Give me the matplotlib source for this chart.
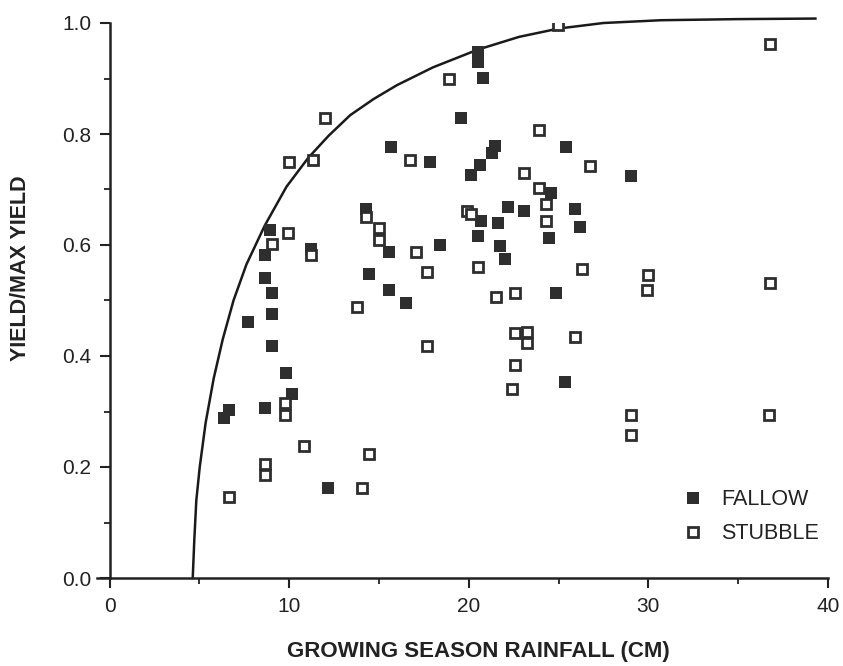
import numpy as np
import matplotlib.pyplot as plt
from matplotlib.ticker import MultipleLocator

plt.rcParams['font.family'] = ['Liberation Sans', 'DejaVu Sans']

# ==============================
# Data
# ==============================
fallow_x = [6.38, 6.65, 7.71, 8.64, 9.05, 9.07, 9.07, 8.64, 8.64, 8.95,
            9.85, 10.18, 11.2, 12.16, 14.28, 14.46, 15.54, 15.54, 15.65, 16.5,
            17.85, 18.37, 19.56, 20.1, 20.64, 21.3, 21.45, 20.5, 20.5, 20.77,
            20.7, 20.54, 21.6, 21.75, 22.03, 22.16, 23.09, 24.47, 24.55, 24.87,
            25.38, 25.4, 25.93, 26.17, 29.04]
fallow_y = [0.288, 0.303, 0.462, 0.306, 0.418, 0.475, 0.513, 0.540, 0.582, 0.627,
            0.370, 0.332, 0.593, 0.163, 0.664, 0.548, 0.587, 0.519, 0.776, 0.496,
            0.750, 0.600, 0.829, 0.726, 0.744, 0.765, 0.778, 0.948, 0.930, 0.901,
            0.644, 0.616, 0.639, 0.599, 0.574, 0.669, 0.661, 0.613, 0.694, 0.513,
            0.354, 0.776, 0.664, 0.633, 0.725]

stubble_x = [6.65, 8.68, 8.68, 9.76, 9.76, 10.82, 9.07, 9.94, 9.97, 11.2,
             11.34, 12.0, 13.76, 14.07, 14.46, 14.3, 14.98, 14.98, 16.73, 17.05,
             17.7, 17.7, 18.9, 19.9, 20.1, 20.54, 21.5, 22.6, 22.6, 23.23,
             23.23, 22.6, 22.4, 23.1, 23.9, 23.9, 24.28, 24.3, 24.95, 25.93,
             26.3, 26.73, 29.04, 29.04, 29.97, 29.9, 36.75, 36.75, 36.7]
stubble_y = [0.146, 0.186, 0.205, 0.294, 0.315, 0.237, 0.602, 0.621, 0.750, 0.582,
             0.754, 0.829, 0.489, 0.163, 0.223, 0.651, 0.630, 0.609, 0.754, 0.587,
             0.552, 0.418, 0.899, 0.661, 0.655, 0.561, 0.506, 0.513, 0.441, 0.444,
             0.423, 0.384, 0.340, 0.729, 0.807, 0.703, 0.673, 0.644, 0.997, 0.435,
             0.557, 0.742, 0.294, 0.258, 0.546, 0.519, 0.962, 0.531, 0.294]

# upper boundary curve
curve_x = [4.63, 4.72, 4.83, 5.02, 5.35, 5.8, 6.3, 6.9, 7.62, 8.64,
           9.85, 11.06, 12.2, 13.4, 14.7, 16.0, 18.0, 20.5, 22.8, 25.0,
           27.5, 30.7, 35.0, 39.3]
curve_y = [0.0, 0.07, 0.14, 0.2, 0.28, 0.36, 0.43, 0.50, 0.565, 0.635,
           0.705, 0.757, 0.797, 0.834, 0.863, 0.888, 0.92, 0.952, 0.975, 0.99,
           1.0, 1.005, 1.007, 1.008]

ink = '#2e2e2e'

# ==============================
# Plot
# ==============================
fig = plt.figure(figsize=(8.43, 6.66), dpi=100)
ax = fig.add_axes([97/843, 1 - 578/666, (828 - 97)/843, (578 - 23)/666])

ax.plot(curve_x, curve_y, color='#1a1a1a', lw=1.8, clip_on=False, zorder=2)
ax.plot(fallow_x, fallow_y, 's', ms=9, color=ink, mec=ink, mew=0,
        label='FALLOW', zorder=3)
ax.plot(stubble_x, stubble_y, 's', ms=7.6, mfc='white', mec=ink, mew=2.0,
        label='STUBBLE', zorder=4)

ax.set_xlim(-0.7, 40)
ax.set_ylim(0, 1.0)
ax.spines['top'].set_visible(False)
ax.spines['right'].set_visible(False)
ax.spines['left'].set_position(('data', 0))
for s in ('left', 'bottom'):
    ax.spines[s].set_linewidth(1.8)
    ax.spines[s].set_color('#222222')

ax.xaxis.set_major_locator(MultipleLocator(10))
ax.xaxis.set_minor_locator(MultipleLocator(5))
ax.yaxis.set_major_locator(MultipleLocator(0.2))
ax.yaxis.set_minor_locator(MultipleLocator(0.1))
ax.yaxis.set_major_formatter(plt.FormatStrFormatter('%.1f'))
ax.tick_params(which='major', direction='out', length=7, width=1.5,
               labelsize=15, color='#222222', labelcolor='#222222')
ax.tick_params(which='minor', direction='out', length=4, width=1.3, color='#222222')
ax.tick_params(axis='x', pad=7)
ax.tick_params(axis='y', pad=6)

ax.set_xlabel('GROWING SEASON RAINFALL (CM)', fontsize=16, fontweight='bold',
              color='#222222')
ax.xaxis.set_label_coords((478 - 97) / 731, -0.113)
ax.set_ylabel('YIELD/MAX YIELD', fontsize=15.5, fontweight='bold',
              color='#222222')
ax.yaxis.set_label_coords(-0.090, (578 - 268) / 555)

ax.legend(loc='upper left', bbox_to_anchor=(661/843, 1 - 470/666),
          bbox_transform=fig.transFigure, frameon=False, fontsize=15.5,
          handletextpad=0.7, labelspacing=0.6, handlelength=1.2,
          labelcolor='#222222')

fig.savefig('out.png', dpi=100)
